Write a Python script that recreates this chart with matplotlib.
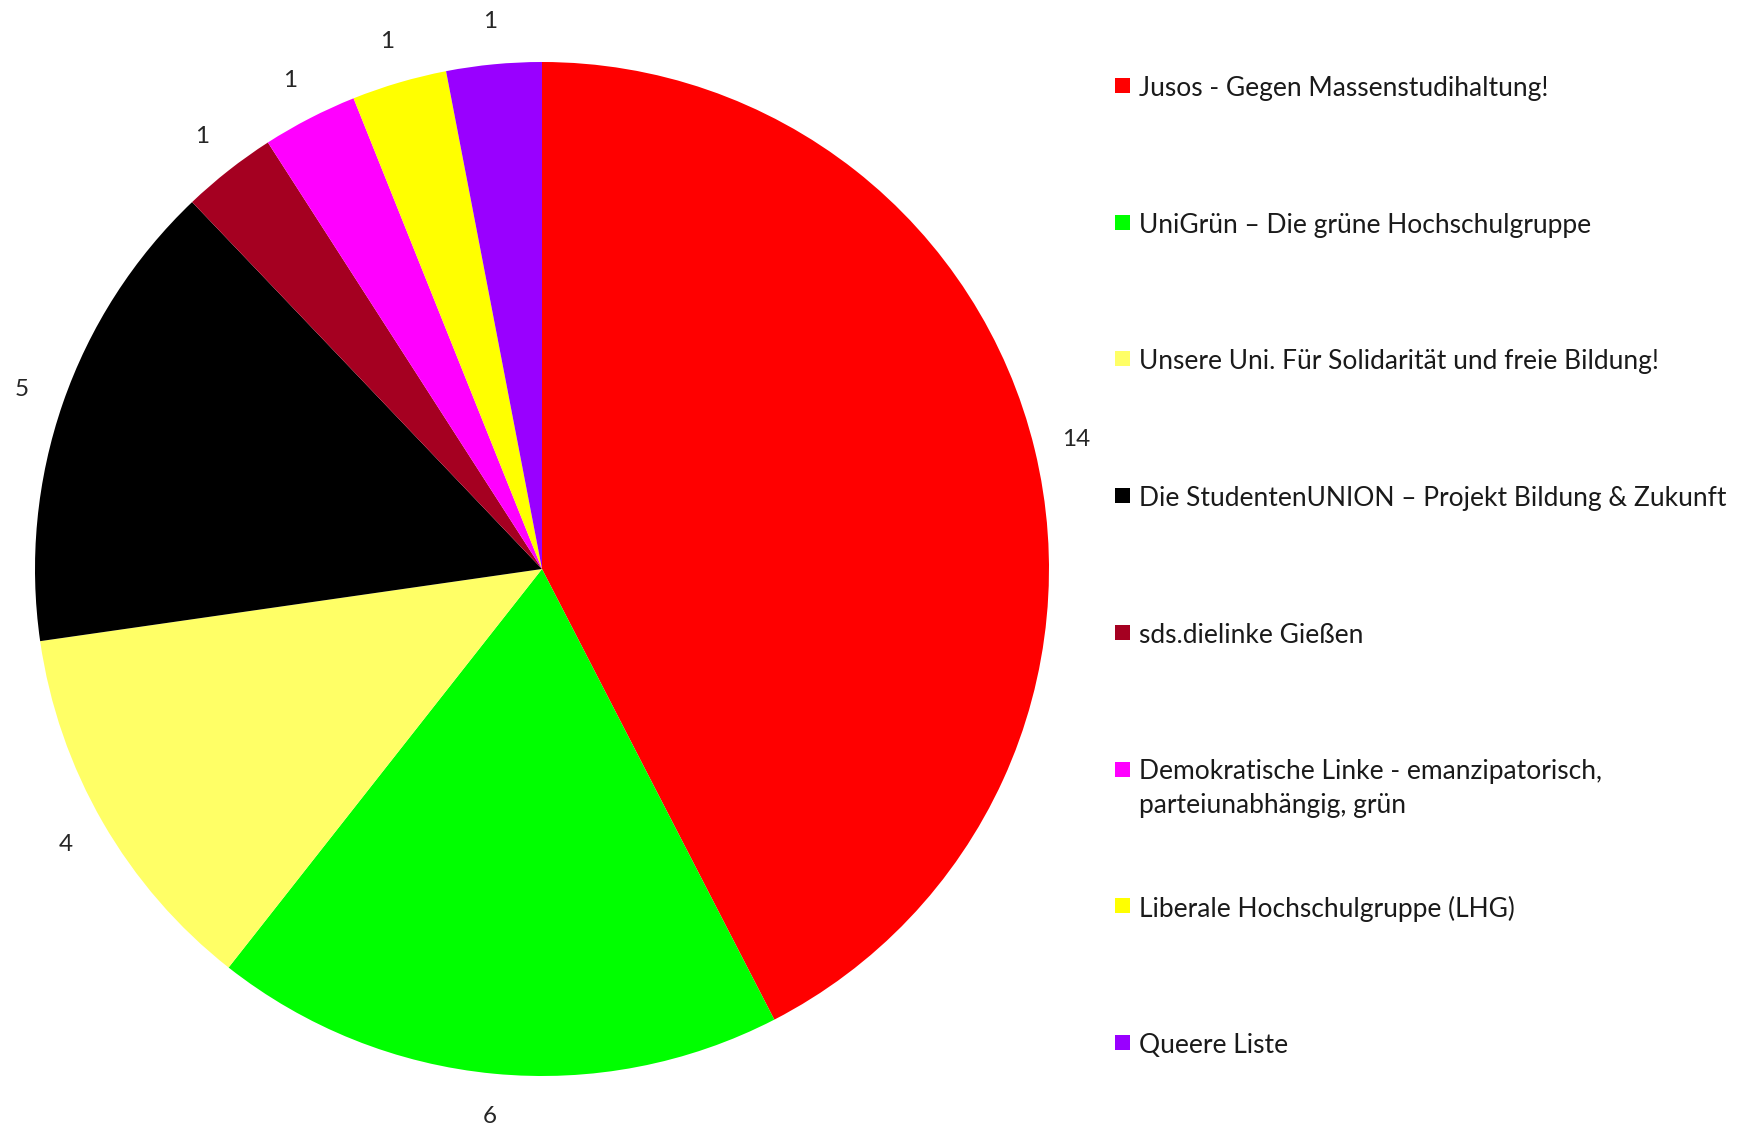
import matplotlib.pyplot as plt
from matplotlib.patches import Rectangle

# Sitzverteilung
parties = [
    "Jusos - Gegen Massenstudihaltung!",
    "UniGrün – Die grüne Hochschulgruppe",
    "Unsere Uni. Für Solidarität und freie Bildung!",
    "Die StudentenUNION – Projekt Bildung & Zukunft",
    "sds.dielinke Gießen",
    "Demokratische Linke - emanzipatorisch,\nparteiunabhängig, grün",
    "Liberale Hochschulgruppe (LHG)",
    "Queere Liste",
]
seats = [14, 6, 4, 5, 1, 1, 1, 1]
colors = ["#FF0000", "#00FF00", "#FFFF66", "#000000",
          "#A50021", "#FF00FF", "#FFFF00", "#9900FF"]

plt.rcParams["font.family"] = ["Lato", "DejaVu Sans"]

W, H = 1739, 1131
fig = plt.figure(figsize=(W / 100, H / 100), dpi=100)

# pie axes: center (542, 569) px, radius 507 px
cx, cy, r = 542, 569, 507
ax = fig.add_axes([(cx - r) / W, (H - cy - r) / H, 2 * r / W, 2 * r / H])
wedges, texts = ax.pie(seats, colors=colors, startangle=90, counterclock=False,
                       labels=[str(s) for s in seats], labeldistance=1.085,
                       wedgeprops=dict(linewidth=0))
for t in texts:
    t.set_ha("center")
    t.set_va("center")
    t.set_fontsize(17.5)
    t.set_color("#262626")
    t.set_clip_on(False)
ax.set_xlim(-1, 1)
ax.set_ylim(-1, 1)
ax.axis("off")

# legend drawn by hand, rows evenly spaced
x_box, x_text = 1115, 1139
y0, step = 85, 136.7
for i, (name, col) in enumerate(zip(parties, colors)):
    y = y0 + i * step
    fig.patches.append(Rectangle(((x_box) / W, 1 - (y + 8) / H), 15 / W, 15 / H,
                                 transform=fig.transFigure, color=col, lw=0))
    fig.text(x_text / W, 1 - (y - 9) / H, name, fontsize=19, color="#1a1a1a",
             ha="left", va="top", linespacing=1.45)

fig.savefig("out.png", dpi=100)
